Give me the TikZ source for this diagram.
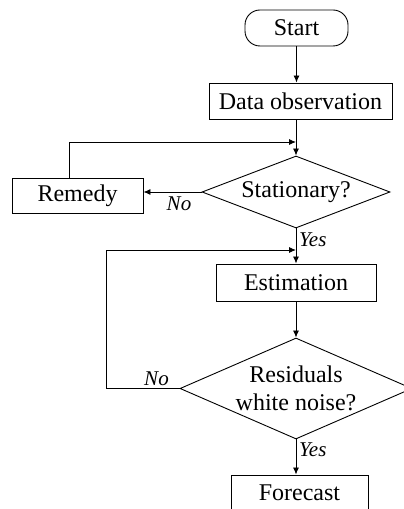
\documentclass[tikz,border=0pt]{standalone}
\usepackage{fontspec}
\setmainfont{Liberation Serif}
\usetikzlibrary{shapes.geometric,arrows.meta}

\tikzset{
  flow/.style={line width=0.9pt, draw=black},
  arr/.style={flow, -{Latex[length=7pt,width=6pt]}},
  procbox/.style={draw, line width=0.9pt, rectangle, inner sep=0pt, font=\fontsize{24}{28}\selectfont},
  termbox/.style={procbox, rounded corners=15pt},
  decision/.style={draw, line width=0.9pt, diamond, inner sep=0pt},
  decisiontext/.style={inner sep=0pt, align=center, font=\fontsize{24}{28}\selectfont},
  branch/.style={inner sep=0pt, font=\fontsize{21}{24}\selectfont\itshape},
}

\begin{document}
\begin{tikzpicture}[x=1pt, y=1pt]
  \useasboundingbox (0,0) rectangle (404,509);

  % main flow
  \node[termbox, minimum width=103pt, minimum height=36pt] (start) at (296.5,481) {Start};
  \node[procbox, minimum width=183pt, minimum height=36pt] (data) at (300.5,408) {Data observation};
  \node[decision, minimum width=188pt, minimum height=72pt] (stat) at (296,317) {};
  \node[decisiontext] (stattext) at (stat.center) {Stationary?};
  \node[procbox, minimum width=131pt, minimum height=35pt] (remedy) at (77.5,313.5) {Remedy};
  \node[procbox, minimum width=160pt, minimum height=37pt] (est) at (296,226.5) {Estimation};
  \node[decision, minimum width=232pt, minimum height=101pt] (res) at (296,120.5) {};
  \node[decisiontext] (restext) at (res.center) {Residuals\\white noise?};
  \node[procbox, minimum width=137pt, minimum height=36pt] (fore) at (299.5,16) {Forecast};

  % merge points of the two feedback loops
  \coordinate (joinA) at (296,367);
  \coordinate (joinB) at (296,259);

  % branch labels
  \node[branch] (noA) at (179,305.5) {No};
  \node[branch, anchor=west] (yesA) at (299,269) {Yes};
  \node[branch] (noB) at (156.5,130) {No};
  \node[branch, anchor=west] (yesB) at (299,59) {Yes};

  % connectors
  \draw[arr] (start.south) -- (start.south |- data.north);
  \draw[arr] (data.south -| stat.north) -- (stat.north);
  \draw[arr] (remedy.north -| 69,0) -- (69,367) -- (joinA);
  \draw[arr] (stat.west) -- (stat.west -| remedy.east);
  \draw[arr] (stat.south) -- (est.north);
  \draw[arr] (res.west) -- (106,120.5) -- (106,259) -- (joinB);
  \draw[arr] (est.south) -- (res.north);
  \draw[arr] (res.south) -- (res.south |- fore.north);
\end{tikzpicture}
\end{document}
